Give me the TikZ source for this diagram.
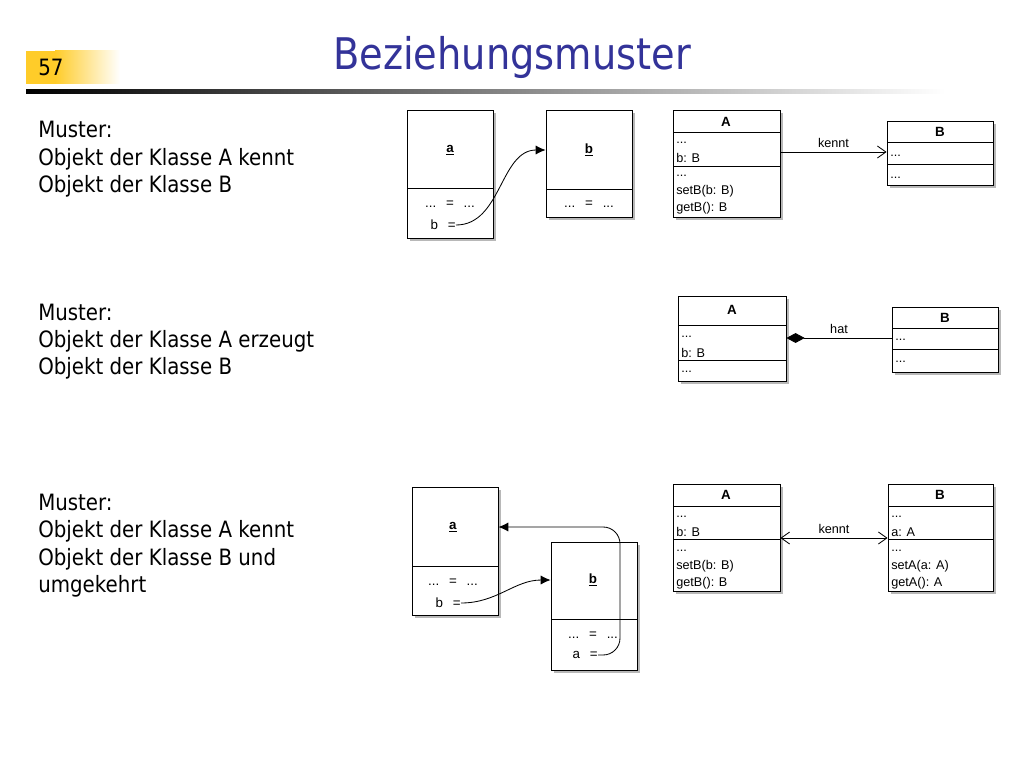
\documentclass[tikz,border=0pt]{standalone}
\usepackage{fontspec}
\setmainfont{DejaVu Sans}[FakeStretch=0.88]
\newfontfamily\umlfont{Liberation Sans}
\usetikzlibrary{arrows.meta,fit,shadows}
\definecolor{titleblue}{HTML}{333399}
\definecolor{gold}{HTML}{FFCC29}
\tikzset{
  box/.style={draw, fill=white, line width=0.6pt, inner sep=0pt,
    drop shadow={shadow xshift=2.2pt, shadow yshift=-2.2pt, fill=black!28, opacity=1}},
  txt/.style={inner sep=0pt, anchor=base west, font=\fontsize{16}{19}\selectfont},
  uml/.style={inner sep=0pt, anchor=west, font=\umlfont\fontsize{9}{11}\selectfont},
  umlhead/.style={inner sep=0pt, font=\umlfont\bfseries\fontsize{9.5}{11}\selectfont},
  obj/.style={inner sep=0pt, font=\umlfont\fontsize{9.5}{11}\selectfont},
  lab/.style={above, inner sep=3pt, font=\umlfont\fontsize{9}{11}\selectfont},
  ref/.style={line width=0.6pt, -{Latex[length=7pt,width=6.5pt]}},
  assoc/.style={line width=0.6pt},
  barb/.tip={Straight Barb[length=6pt,width=8.5pt]},
}
\begin{document}
\begin{tikzpicture}[x=0.025cm,y=-0.025cm]
  \useasboundingbox (0,0) rectangle (1024,768);
  % header
  \fill[gold] (26,51) rectangle (56,84);
  \shade[left color=gold, right color=white] (55,51) rectangle (120,84);
  \shade[left color=black, right color=white] (26,90) rectangle (945,94);
  \node[txt] (num) at (38,76) {57};
  \node[anchor=base, inner sep=0pt, text=titleblue, font=\fontsize{31}{36}\selectfont]
    (title) at (512,70) {Beziehungsmuster};

  % patterns
  \node[txt] (m1) at (38,138) {Muster:};
  \node[txt] (m1a) at (38,165) {Objekt der Klasse A kennt};
  \node[txt] (m1b) at (38,192) {Objekt der Klasse B};
  \node[txt] (m2) at (38,320) {Muster:};
  \node[txt] (m2a) at (38,347) {Objekt der Klasse A erzeugt};
  \node[txt] (m2b) at (38,374) {Objekt der Klasse B};
  \node[txt] (m3) at (38,510) {Muster:};
  \node[txt] (m3a) at (38,537) {Objekt der Klasse A kennt};
  \node[txt] (m3b) at (38,565) {Objekt der Klasse B und};
  \node[txt] (m3c) at (38,592) {umgekehrt};

  % row 1: objects
  \node[box, fit={(407,110) (493,238)}] (oa1) {};
  \draw (407,188) -- (493,188);
  \node[obj] (at1) at (450,150) {\underline{\textbf{a}}};
  \node[obj] (da1) at (450,204) {...\hspace{7pt}=\hspace{7pt}...};
  \node[obj, anchor=east] (eb1) at (456,225) {b\hspace{7pt}=};
  \node[box, fit={(546,110) (632,217)}] (ob1) {};
  \draw (546,189) -- (632,189);
  \node[obj] (bt1) at (589,150) {\underline{\textbf{b}}};
  \node[obj] (db1) at (589,204) {...\hspace{7pt}=\hspace{7pt}...};

  % row 1: classes
  \node[box, fit={(673,110) (780,217)}] (A1) {};
  \draw (673,132) -- (780,132);
  \draw (673,166) -- (780,166);
  \node[umlhead] (A1n) at (726,122) {A};
  \node[uml] (A1a) at (676,143) {...};
  \node[uml] (A1b) at (676,158) {b: B};
  \node[uml] (A1c) at (676,176) {...};
  \node[uml] (A1d) at (676,191) {setB(b: B)};
  \node[uml] (A1e) at (676,208) {getB(): B};
  \node[box, fit={(887,121) (993,185)}] (B1) {};
  \draw (887,142) -- (993,142);
  \draw (887,164) -- (993,164);
  \node[umlhead] (B1n) at (940,132) {B};
  \node[uml] (B1a) at (890,156) {...};
  \node[uml] (B1b) at (890,178) {...};

  % row 2: classes
  \node[box, fit={(678,296) (786,381)}] (A2) {};
  \draw (678,325) -- (786,325);
  \draw (678,360) -- (786,360);
  \node[umlhead] (A2n) at (732,310) {A};
  \node[uml] (A2a) at (681,337) {...};
  \node[uml] (A2b) at (681,353) {b: B};
  \node[uml] (A2c) at (681,372) {...};
  \node[box, fit={(892,307) (998,372)}] (B2) {};
  \draw (892,328) -- (998,328);
  \draw (892,349) -- (998,349);
  \node[umlhead] (B2n) at (945,318) {B};
  \node[uml] (B2a) at (895,340) {...};
  \node[uml] (B2b) at (895,362) {...};

  % row 3: objects
  \node[box, fit={(412,487) (498,615)}] (oa3) {};
  \draw (412,566) -- (498,566);
  \node[obj] (at3) at (453,527) {\underline{\textbf{a}}};
  \node[obj] (da3) at (453,582) {...\hspace{7pt}=\hspace{7pt}...};
  \node[obj, anchor=east] (eb3) at (461,603) {b\hspace{7pt}=};
  \node[box, fit={(551,542) (637,670)}] (ob3) {};
  \draw (551,619) -- (637,619);
  \node[obj] (bt3) at (593,580) {\underline{\textbf{b}}};
  \node[obj] (db3) at (593,635) {...\hspace{7pt}=\hspace{7pt}...};
  \node[obj, anchor=east] (ea3) at (598,655) {a\hspace{7pt}=};

  % row 3: classes
  \node[box, fit={(673,484) (780,591)}] (A3) {};
  \draw (673,506) -- (780,506);
  \draw (673,539) -- (780,539);
  \node[umlhead] (A3n) at (726,495) {A};
  \node[uml] (A3a) at (676,517) {...};
  \node[uml] (A3b) at (676,532) {b: B};
  \node[uml] (A3c) at (676,551) {...};
  \node[uml] (A3d) at (676,566) {setB(b: B)};
  \node[uml] (A3e) at (676,583) {getB(): B};
  \node[box, fit={(888,484) (993,591)}] (B3) {};
  \draw (888,506) -- (993,506);
  \draw (888,539) -- (993,539);
  \node[umlhead] (B3n) at (940,495) {B};
  \node[uml] (B3a) at (891,517) {...};
  \node[uml] (B3b) at (891,532) {a: A};
  \node[uml] (B3c) at (891,551) {...};
  \node[uml] (B3d) at (891,566) {setA(a: A)};
  \node[uml] (B3e) at (891,583) {getA(): A};

  % connectors
  \coordinate (k1) at (833,152);
  \coordinate (k2) at (840,338);
  \coordinate (k3) at (833,538);
  \coordinate (up3) at (620,590);
  \begin{scope}
    \draw[ref] (eb1.east) to[out=0,in=180] (ob1.west |- bt1);
    \draw[assoc, -barb] (A1.east |- k1) -- node[lab] (kn1) {kennt} (B1.west |- k1);
    \draw[assoc, {Diamond[length=13pt,width=7pt]}-] (A2.east |- k2) -- node[lab] (hat) {hat} (B2.west |- k2);
    \draw[ref] (eb3.east) to[out=0,in=180] (ob3.west |- bt3);
    \draw[ref, rounded corners=12pt] (ea3.east) -| (up3) |- (oa3.east |- at3);
    \draw[assoc, barb-barb] (A3.east |- k3) -- node[lab] (kn3) {kennt} (B3.west |- k3);
  \end{scope}
\end{tikzpicture}
\end{document}
